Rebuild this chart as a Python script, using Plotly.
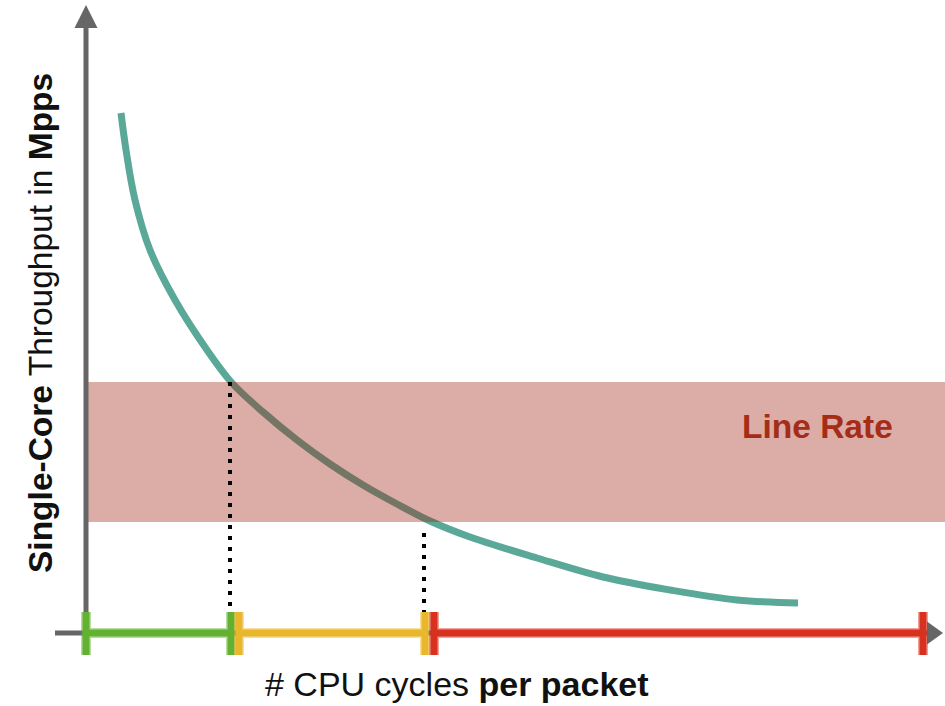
import plotly.graph_objects as go

# ---- data (schematic values) ----
cycles = [70, 80, 98, 128, 178, 242, 292, 354, 422, 488, 554, 622, 688, 768, 902, 1034, 1168, 1302, 1424]
mpps = [52.0, 48.3, 43.3, 38.3, 33.3, 28.3, 25.0, 22.1, 19.3, 16.9, 14.8, 12.9, 11.2, 9.6, 7.5, 5.6, 4.3, 3.3, 3.0]

line_rate_low = 11.1
line_rate_high = 25.1
line_rate_label = "Line Rate"

threshold_cycles = [288, 676]          # where the curve leaves / enters the band
threshold_mpps = [25.1, 10.0]

phase_start = [0, 306, 696]
phase_end = [290, 678, 1674]
phase_colors = ["#62b130", "#e9b72c", "#d8311f"]

x_title = "# CPU cycles <b>per packet</b>"
y_title = "<b>Single-Core</b> Throughput in <b>Mpps</b>"

# axis extents (cycles / Mpps)
x_min, x_max = -172, 1718
y_min, y_max = -7.3, 63.3
x_axis_start, x_axis_tip = -62, 1714
y_axis_tip = 62.8
arrow_len_x, arrow_len_y = 32, 2.3     # arrow head length in x / y units
arrow_half_x, arrow_half_y = 23, 1.15  # arrow head half width
cap_low, cap_high = -2.2, 2.1

AXIS_COLOR = "#666666"
FONT = "Liberation Sans, Arial, sans-serif"

fig = go.Figure()

# throughput curve
fig.add_trace(go.Scatter(x=cycles, y=mpps, mode="lines",
                         line=dict(color="#5aa898", width=7, shape="spline", smoothing=1.0),
                         hoverinfo="skip"))

# line rate band (drawn above the curve, translucent)
fig.add_trace(go.Scatter(x=[0, x_max, x_max, 0, 0],
                         y=[line_rate_low, line_rate_low, line_rate_high, line_rate_high, line_rate_low],
                         mode="lines", fill="toself", fillcolor="rgba(160,30,14,0.37)",
                         line=dict(width=0, color="rgba(0,0,0,0)"), hoverinfo="skip"))

# dotted guides
for xc, yc in zip(threshold_cycles, threshold_mpps):
    fig.add_trace(go.Scatter(x=[xc, xc], y=[yc, cap_high], mode="lines",
                             line=dict(color="black", width=4, dash="4px,7px"),
                             hoverinfo="skip"))

# axes lines
fig.add_trace(go.Scatter(x=[x_axis_start, x_axis_tip - arrow_len_x], y=[0, 0], mode="lines",
                         line=dict(color=AXIS_COLOR, width=5), hoverinfo="skip"))
fig.add_trace(go.Scatter(x=[0, 0], y=[0, y_axis_tip - arrow_len_y], mode="lines",
                         line=dict(color=AXIS_COLOR, width=5), hoverinfo="skip"))
# arrow heads
fig.add_trace(go.Scatter(x=[x_axis_tip - arrow_len_x, x_axis_tip, x_axis_tip - arrow_len_x, x_axis_tip - arrow_len_x],
                         y=[-arrow_half_y, 0, arrow_half_y, -arrow_half_y],
                         mode="lines", fill="toself", fillcolor=AXIS_COLOR,
                         line=dict(width=0, color=AXIS_COLOR), hoverinfo="skip"))
fig.add_trace(go.Scatter(x=[-arrow_half_x, 0, arrow_half_x, -arrow_half_x],
                         y=[y_axis_tip - arrow_len_y, y_axis_tip, y_axis_tip - arrow_len_y, y_axis_tip - arrow_len_y],
                         mode="lines", fill="toself", fillcolor=AXIS_COLOR,
                         line=dict(width=0, color=AXIS_COLOR), hoverinfo="skip"))

# phase segments with end caps (sketchy look: soft halo + core)
for s, e, c in zip(phase_start, phase_end, phase_colors):
    xs = [s, e, None, s, s, None, e, e]
    ys = [0, 0, None, cap_low, cap_high, None, cap_low, cap_high]
    fig.add_trace(go.Scatter(x=xs, y=ys, mode="lines", opacity=0.45,
                             line=dict(color=c, width=10), hoverinfo="skip"))
    fig.add_trace(go.Scatter(x=xs, y=ys, mode="lines",
                             line=dict(color=c, width=7), hoverinfo="skip"))

fig.add_annotation(x=1462, y=20.7, text="<b>" + line_rate_label + "</b>", showarrow=False,
                   font=dict(family=FONT, size=33.5, color="#a52d18"))
fig.add_annotation(x=742, y=-5.1, text=x_title, showarrow=False,
                   font=dict(family=FONT, size=34, color="#111111"))
fig.add_annotation(x=-92, y=31.0, text=y_title, showarrow=False, textangle=-90,
                   font=dict(family=FONT, size=33.5, color="#111111"))

fig.update_layout(width=945, height=706, margin=dict(l=0, r=0, t=0, b=0),
                  paper_bgcolor="white", plot_bgcolor="white", showlegend=False,
                  xaxis=dict(range=[x_min, x_max], visible=False, fixedrange=True),
                  yaxis=dict(range=[y_min, y_max], visible=False, fixedrange=True))

fig.write_html("out.html", config={"displayModeBar": False},
               post_script="document.body.style.margin='0';document.body.style.overflow='hidden';")
